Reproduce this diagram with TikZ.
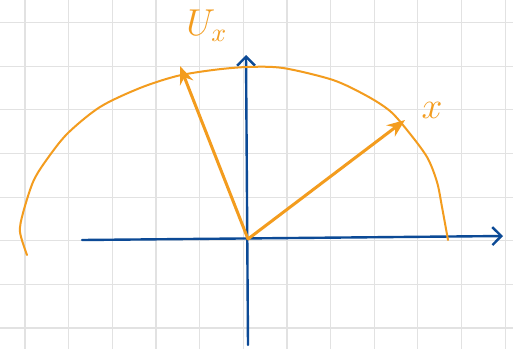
\documentclass[tikz,border=0pt]{standalone}
\usetikzlibrary{arrows.meta}
\definecolor{penorange}{RGB}{243,156,30}
\definecolor{penblue}{RGB}{12,74,150}
\definecolor{gridgray}{RGB}{226,226,226}
\tikzset{
	axis/.style={draw=penblue,line width=2.4pt,line cap=round,-{Straight Barb[length=9pt,width=18pt,line width=2.4pt]}},
	vec/.style={draw=penorange,line width=3pt,line cap=round,-{Stealth[length=18pt,width=14pt]}},
	hand/.style={text=penorange,font=\Large}
}
\newcommand{\bigpen}[1]{\scalebox{2.6}{#1}}
\begin{document}
\begin{tikzpicture}[x=1pt,y=-1pt]
	\useasboundingbox [fill=white] (0,0) rectangle (513,349);
	\foreach \k in {0,...,11} \draw [gridgray,line width=1.2pt] (25+43.65*\k,0) -- (25+43.65*\k,349);
	\foreach \k in {0,...,7} \draw [gridgray,line width=1.2pt] (0,22.5+43.65*\k) -- (513,22.5+43.65*\k);
	
	\coordinate (o) at (248,239);
	\coordinate (xl) at (82,240);
	\coordinate (xr) at (503,236);
	\coordinate (yb) at (248,345);
	\coordinate (yt) at (246,55);
	\draw [axis] (xl) -- (xr);
	\draw [axis] (yb) -- (yt);
	
	\draw [penorange,line width=2pt,line cap=round] plot [smooth] coordinates {(27,255) (20,232) (23,213) (33,182) (45,162) (67,134) (100,107) (140,88) (177,76) (213,70) (247,67) (283,68) (333,80) (367,96) (390,111) (407,130) (427,157) (437,182) (442,207) (448,240)};
	
	\coordinate (ux) at (180,66);
	\coordinate (xv) at (405,120);
	\draw [vec] (o) -- (ux);
	\draw [vec] (o) -- (xv);
	
	\node [hand] at (207,26) (uxlabel) {\bigpen{$U_x$}};
	\node [hand] at (432,110) (xlabel) {\bigpen{$x$}};
\end{tikzpicture}
\end{document}
